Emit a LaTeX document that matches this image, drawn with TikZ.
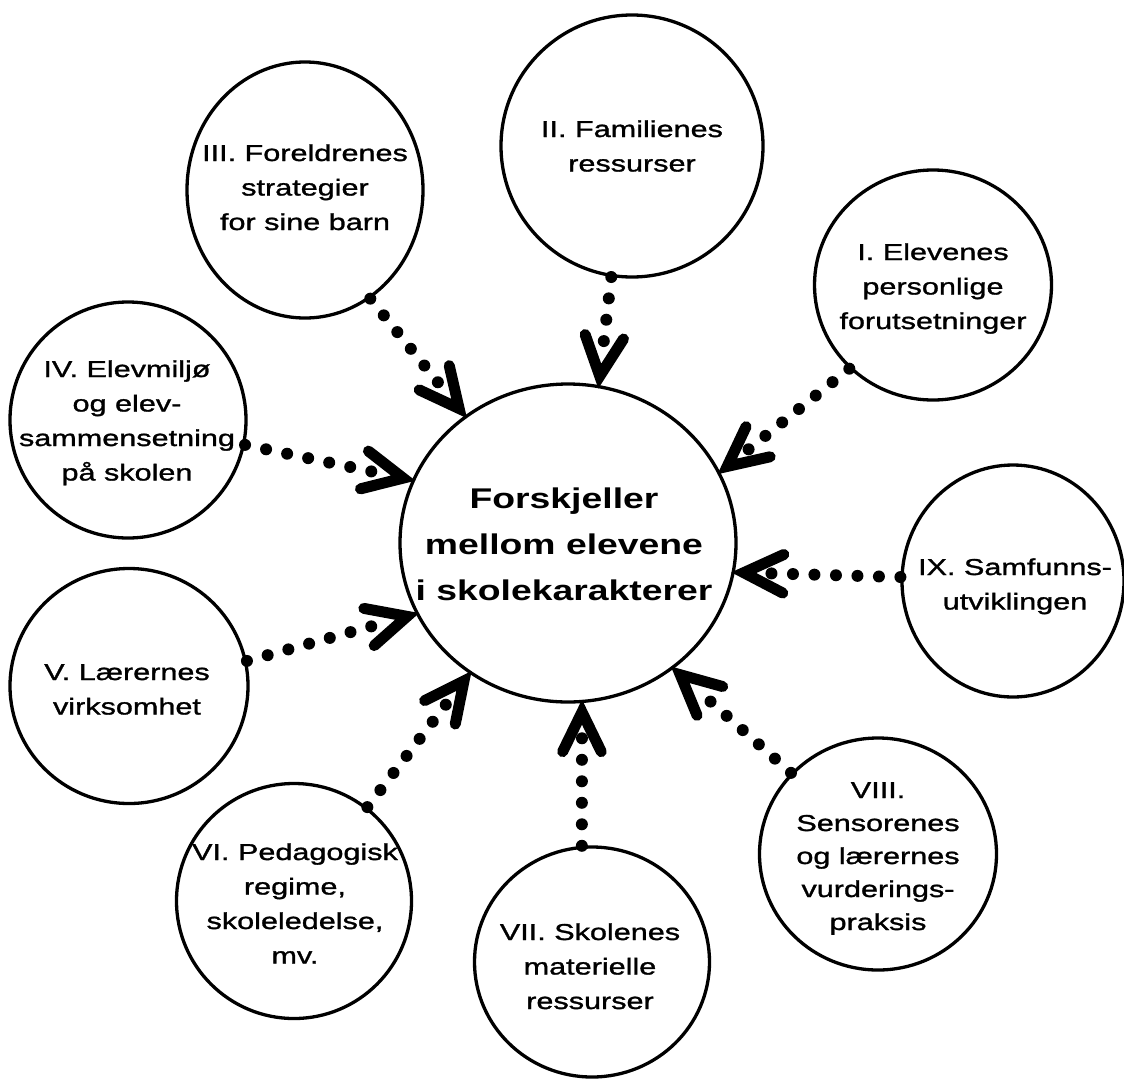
\documentclass[tikz,border=0pt]{standalone}
\usepackage{fontspec}
\setmainfont{Liberation Sans}
\newfontfamily\pfont{Liberation Sans}[FakeStretch=1.33,FakeBold=1.3]
\newfontfamily\cfont{Liberation Sans}[FakeStretch=1.31]
\usetikzlibrary{shapes.geometric,calc}
\newcommand\stack[1]{\begin{tabular}[t]{@{}c@{}}#1\end{tabular}}
\begin{document}
\begin{tikzpicture}[x=1pt,y=-1pt,
  bub/.style={draw, ellipse, line width=3.3pt, inner sep=0pt},
  ptxt/.style={anchor=base, inner sep=0pt, font=\pfont\fontsize{23}{34.5}\selectfont},
  ctxt/.style={anchor=base, inner sep=0pt, font=\cfont\bfseries\fontsize{28.5}{46}\selectfont},
  dotline/.style={line width=12pt, line cap=round, dash pattern=on 0pt off 21.5pt},
  vhead/.style={line width=11pt, line cap=round, line join=miter}]
\useasboundingbox (0,0) rectangle (1124,1079);
% bubbles
\node[bub, minimum width=336pt, minimum height=318pt] (C) at (568,543) {};
\node[bub, minimum width=237pt, minimum height=230pt] (n1) at (933,285) {};
\node[bub, minimum width=262pt, minimum height=262pt] (n2) at (632,146) {};
\node[bub, minimum width=236pt, minimum height=256pt] (n3) at (305,190) {};
\node[bub, minimum width=236pt, minimum height=236pt] (n4) at (128,420) {};
\node[bub, minimum width=238pt, minimum height=235pt] (n5) at (129,686) {};
\node[bub, minimum width=235pt, minimum height=235pt] (n6) at (294,901) {};
\node[bub, minimum width=235pt, minimum height=230pt] (n7) at (592,962) {};
\node[bub, minimum width=237pt, minimum height=232pt] (n8) at (878,854) {};
\node[bub, minimum width=222pt, minimum height=232pt] (n9) at (1013,581) {};
% texts
\node[ctxt] (ct) at (564,508) {\stack{Forskjeller\\mellom elevene\\i skolekarakterer}};
\node[ptxt] (t1) at (933,260) {\stack{I. Elevenes\\personlige\\forutsetninger}};
\node[ptxt] (t2) at (632,137) {\stack{II. Familienes\\ressurser}};
\node[ptxt] (t3) at (305,161) {\stack{III. Foreldrenes\\strategier\\for sine barn}};
\node[ptxt] (t4) at (127,377) {\stack{IV. Elevmiljø\\og elev-\\sammensetning\\på skolen}};
\node[ptxt] (t5) at (127,680) {\stack{V. Lærernes\\virksomhet}};
\node[ptxt] (t6) at (295,860) {\stack{VI. Pedagogisk\\regime,\\skoleledelse,\\mv.}};
\node[ptxt] (t7) at (590,940) {\stack{VII. Skolenes\\materielle\\ressurser}};
\node[ptxt, font=\pfont\fontsize{23}{33}\selectfont] (t8) at (878,798) {\stack{VIII.\\Sensorenes\\og lærernes\\vurderings-\\praksis}};
\node[ptxt] (t9) at (1015,575) {\stack{IX. Samfunns-\\utviklingen}};
% connectors
\foreach \s/\a/\b in {n1/225/25.8, n2/261/79.4, n3/301/129.7, n4/348/158.3, n5/12/205,
                      n6/52/233.5, n7/95/275, n8/137/310.6, n9/178/350.6}{
  \coordinate (v) at ($(C.\b)!9pt!(\s.\a)$);
  \draw[dotline] (\s.\a) -- ($(C.\b)!30pt!(\s.\a)$);
  \draw[vhead] ($(v)!44pt!26:(\s.\a)$) -- (v) -- ($(v)!44pt!-26:(\s.\a)$);
}
\end{tikzpicture}
\end{document}
